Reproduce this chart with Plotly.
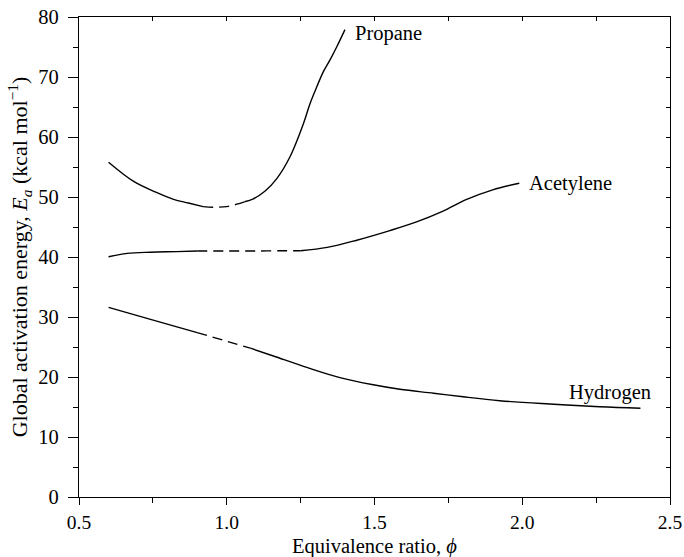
import plotly.graph_objects as go

# Propane: solid / dashed / solid segments
propane_x1 = [0.60, 0.685, 0.76, 0.82, 0.87, 0.92]
propane_y1 = [55.8, 52.6, 50.8, 49.6, 49.0, 48.4]
propane_xd = [0.92, 0.955, 1.00, 1.034, 1.06]
propane_yd = [48.4, 48.3, 48.4, 48.8, 49.2]
propane_x2 = [1.06, 1.09, 1.13, 1.17, 1.214, 1.26, 1.282, 1.305, 1.327, 1.35, 1.372, 1.40]
propane_y2 = [49.2, 49.7, 51.0, 53.1, 56.7, 62.3, 65.6, 68.4, 70.9, 72.9, 75.0, 77.9]

# Acetylene
acet_x1 = [0.60, 0.663, 0.742, 0.83, 0.90]
acet_y1 = [40.05, 40.6, 40.8, 40.9, 41.0]
acet_xd = [0.90, 1.00, 1.10, 1.20, 1.25]
acet_yd = [41.0, 41.0, 41.0, 41.05, 41.05]
acet_x2 = [1.25, 1.34, 1.44, 1.552, 1.64, 1.73, 1.812, 1.90, 1.99]
acet_y2 = [41.05, 41.6, 42.8, 44.4, 45.8, 47.6, 49.6, 51.2, 52.3]

# Hydrogen
hyd_x1 = [0.60, 0.742, 0.90]
hyd_y1 = [31.6, 29.6, 27.4]
hyd_xd = [0.90, 0.99, 1.08]
hyd_yd = [27.4, 26.1, 24.8]
hyd_x2 = [1.08, 1.158, 1.271, 1.383, 1.496, 1.586, 1.70, 1.80, 1.924, 2.093, 2.262, 2.40]
hyd_y2 = [24.8, 23.5, 21.6, 19.9, 18.7, 17.95, 17.3, 16.7, 16.05, 15.5, 15.05, 14.8]

label_names = ["Propane", "Acetylene", "Hydrogen"]
label_x = [1.427, 2.015, 2.15]
label_y = [77.3, 52.2, 17.5]

x_ticks = [0.5, 1.0, 1.5, 2.0, 2.5]
x_ticktext = ["0.5", "1.0", "1.5", "2.0", "2.5"]
y_ticks = [0, 10, 20, 30, 40, 50, 60, 70, 80]
x_title = "Equivalence ratio, <i>ϕ</i>"
y_title = "Global activation energy, <i>E<sub>a</sub></i> (kcal mol<sup>−1</sup>)"

FONT = "Liberation Serif, Times New Roman, Times, serif"
FS = 20.5
LINE = dict(color="black", width=1.4)
DASH = dict(color="black", width=1.4, dash="10px,6px")

fig = go.Figure()
for xs, ys, ln in [
    (propane_x1, propane_y1, LINE), (propane_xd, propane_yd, DASH), (propane_x2, propane_y2, LINE),
    (acet_x1, acet_y1, LINE), (acet_xd, acet_yd, DASH), (acet_x2, acet_y2, LINE),
    (hyd_x1, hyd_y1, LINE), (hyd_xd, hyd_yd, DASH), (hyd_x2, hyd_y2, LINE),
]:
    fig.add_trace(go.Scatter(x=xs, y=ys, mode="lines", line=ln, line_shape="spline",
                             showlegend=False, hoverinfo="skip"))

# dummy trace to activate mirror axes
fig.add_trace(go.Scatter(x=[None], y=[None], xaxis="x2", yaxis="y2", showlegend=False, hoverinfo="skip"))

for name, lx, ly in zip(label_names, label_x, label_y):
    fig.add_annotation(x=lx, y=ly, text=name, showarrow=False, xanchor="left", yanchor="middle",
                       font=dict(family=FONT, size=20.5, color="black"))

# x-axis title as a paper annotation at the bottom edge
fig.add_annotation(x=0.5, y=-0.125, xref="paper", yref="paper", text=x_title, showarrow=False,
                   xanchor="center", yanchor="bottom", yshift=-2, borderpad=0,
                   font=dict(family=FONT, size=20.5, color="black"))

common = dict(showline=True, linecolor="black", linewidth=1.3, showgrid=False, zeroline=False,
              automargin=False)

fig.update_layout(
    width=684, height=557,
    margin=dict(l=79, r=14, t=17, b=60),
    plot_bgcolor="white", paper_bgcolor="white",
    font=dict(family=FONT, size=FS, color="black"),
    xaxis=dict(range=[0.5, 2.5], tickvals=x_ticks, ticktext=x_ticktext, ticks="outside", ticklen=7,
               tickwidth=1.3, tickcolor="black", ticklabelstandoff=0,
               minor=dict(ticks="outside", ticklen=5, dtick=0.25, tickcolor="black", tickwidth=1.3),
               tickfont=dict(family=FONT, size=19.5), **common),
    yaxis=dict(range=[0, 80], tickvals=y_ticks, ticks="outside", ticklen=10, tickwidth=1.3, tickcolor="black",
               ticklabelstandoff=5,
               minor=dict(ticks="outside", ticklen=5, dtick=5, tickcolor="black", tickwidth=1.3),
               title=dict(text=y_title, standoff=4, font=dict(family=FONT, size=22)),
               tickfont=dict(family=FONT, size=FS), **common),
    xaxis2=dict(range=[0.5, 2.5], overlaying="x", side="top", tickvals=x_ticks, ticks="inside", ticklen=4,
                tickwidth=1.3, tickcolor="black", showticklabels=False,
                minor=dict(ticks="inside", ticklen=4, dtick=0.25, tickcolor="black", tickwidth=1.3),
                **common),
    yaxis2=dict(range=[0, 80], overlaying="y", side="right", tickvals=y_ticks, ticks="inside", ticklen=4,
                tickwidth=1.3, tickcolor="black", showticklabels=False,
                minor=dict(ticks="inside", ticklen=4, dtick=5, tickcolor="black", tickwidth=1.3),
                **common),
)

fig.write_html("out.html")
